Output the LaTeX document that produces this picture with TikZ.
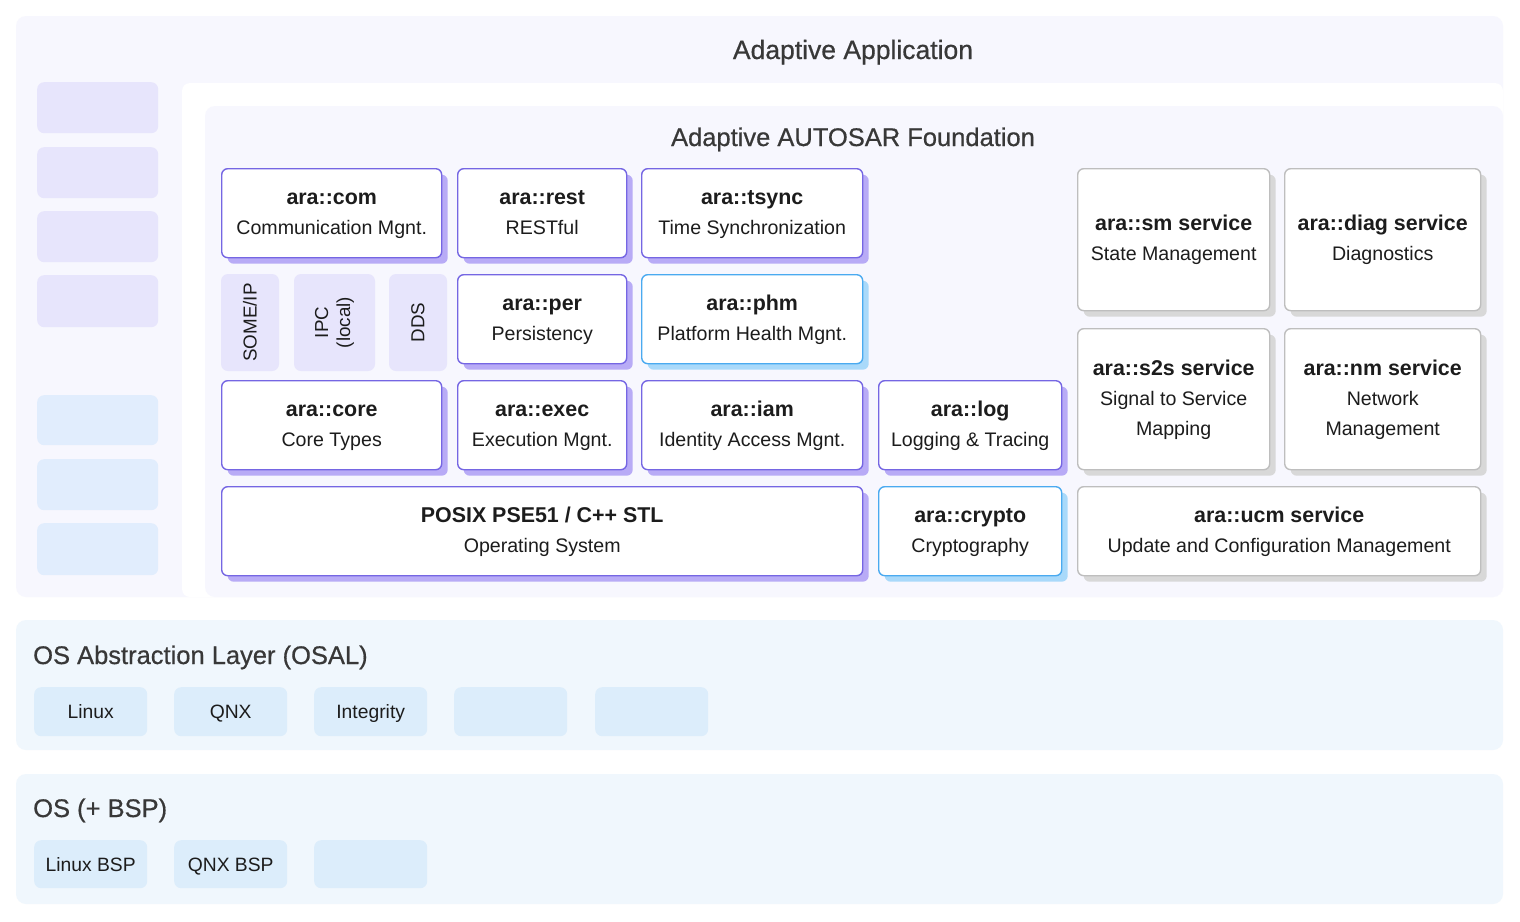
\documentclass[tikz,border=0pt]{standalone}
\usepackage{fontspec}
\setmainfont{Liberation Sans}
\newfontfamily\medfont{Liberation Sans}[FakeBold=0.6]
\usetikzlibrary{shadows}
\definecolor{panelL}{HTML}{F7F7FE}
\definecolor{lav}{HTML}{E7E5FC}
\definecolor{lblue}{HTML}{E1EDFD}
\definecolor{osal}{HTML}{F0F7FD}
\definecolor{osbox}{HTML}{DCEDFB}
\definecolor{pb}{HTML}{7566E3}
\definecolor{ps}{HTML}{B8ABF6}
\definecolor{bb}{HTML}{4AAAF0}
\definecolor{bs}{HTML}{A9D9FA}
\definecolor{gb}{HTML}{BEBEBE}
\definecolor{gs}{HTML}{D8D8D8}
\definecolor{txt}{HTML}{1C1C1C}
\definecolor{ttlc}{HTML}{383838}
\newcommand{\ms}{\rule[-9pt]{0pt}{30pt}}
\newcommand{\modtitle}[1]{{\fontsize{21.4}{30}\selectfont\bfseries\ms #1}}
\tikzset{
  mod/.style 2 args={draw=#1, line width=1.4pt, fill=white, rounded corners=6pt,
    anchor=north west, inner sep=0pt, align=center, text=txt,
    font=\fontsize{19.6}{30}\selectfont,
    drop shadow={shadow xshift=6pt, shadow yshift=-6pt, fill=#2, opacity=1}},
  pmod/.style={mod={pb}{ps}},
  bmod/.style={mod={bb}{bs}},
  gmod/.style={mod={gb}{gs}},
  panel/.style={fill=#1, draw=none, rounded corners=10pt},
  tile/.style={fill=#1, draw=none, rounded corners=7pt, anchor=north west, inner sep=0pt,
    text=txt, font=\fontsize{19.3}{22}\selectfont, text height=13.8pt, text depth=0pt},
  proto/.style={fill=lav, draw=none, rounded corners=7pt, inner sep=0pt, align=center,
    text=txt, font=\fontsize{18.8}{22}\selectfont, rotate=90},
  sect/.style={text=ttlc, font=\medfont\fontsize{25.5}{28}\selectfont, inner sep=0pt, anchor=base},
}
\begin{document}
\begin{tikzpicture}[x=1pt,y=-1pt]
\useasboundingbox (0,0) rectangle (1520,921);
\fill[white] (0,0) rectangle (1520,921);
% panels
\fill[panel=panelL] (16,16) rectangle (1503,597);
\fill[white, rounded corners=8pt] (182,83) rectangle (1503,597);
\fill[panel=panelL] (205,106) rectangle (1503,597);
\fill[panel=osal] (16,620) rectangle (1503,750);
\fill[panel=osal] (16,774) rectangle (1503,904);
% section titles
\node[sect, font=\medfont\fontsize{26.5}{28}\selectfont] (appT) at (853,59) {Adaptive Application};
\node[sect] (fndT) at (853,146) {Adaptive AUTOSAR Foundation};
\node[sect, anchor=base west] (osalT) at (33,664) {OS Abstraction Layer (OSAL)};
\node[sect, anchor=base west] (osT) at (33,817) {OS (+ BSP)};
% left column tiles
\node[tile=lav, minimum width=121pt, minimum height=51pt] (l1) at (37,82) {};
\node[tile=lav, minimum width=121pt, minimum height=51pt] (l2) at (37,147) {};
\node[tile=lav, minimum width=121pt, minimum height=51pt] (l3) at (37,211) {};
\node[tile=lav, minimum width=121pt, minimum height=52pt] (l4) at (37,275) {};
\node[tile=lblue, minimum width=121pt, minimum height=50pt] (l5) at (37,395) {};
\node[tile=lblue, minimum width=121pt, minimum height=51pt] (l6) at (37,459) {};
\node[tile=lblue, minimum width=121pt, minimum height=52pt] (l7) at (37,523) {};
% module boxes
\node[pmod, minimum width=220pt, minimum height=89pt] (com) at (221,168) {\modtitle{ara::com}\\\ms Communication Mgnt.};
\node[pmod, minimum width=169pt, minimum height=89pt] (rest) at (457,168) {\modtitle{ara::rest}\\\ms RESTful};
\node[pmod, minimum width=221pt, minimum height=89pt] (tsync) at (641,168) {\modtitle{ara::tsync}\\\ms Time Synchronization};
\node[pmod, minimum width=169pt, minimum height=89pt] (per) at (457,274) {\modtitle{ara::per}\\\ms Persistency};
\node[bmod, minimum width=221pt, minimum height=89pt] (phm) at (641,274) {\modtitle{ara::phm}\\\ms Platform Health Mgnt.};
\node[pmod, minimum width=220pt, minimum height=89pt] (core) at (221,380) {\modtitle{ara::core}\\\ms Core Types};
\node[pmod, minimum width=169pt, minimum height=89pt] (exec) at (457,380) {\modtitle{ara::exec}\\\ms Execution Mgnt.};
\node[pmod, minimum width=221pt, minimum height=89pt] (iam) at (641,380) {\modtitle{ara::iam}\\\ms Identity Access Mgnt.};
\node[pmod, minimum width=183pt, minimum height=89pt] (log) at (878,380) {\modtitle{ara::log}\\\ms Logging \& Tracing};
\node[pmod, minimum width=641pt, minimum height=89pt] (posix) at (221,486) {\modtitle{POSIX PSE51 / C++ STL}\\\ms Operating System};
\node[bmod, minimum width=183pt, minimum height=89pt] (crypto) at (878,486) {\modtitle{ara::crypto}\\\ms Cryptography};
% services
\node[gmod, minimum width=192pt, minimum height=142pt] (sm) at (1077,168) {\modtitle{ara::sm service}\\\ms State Management};
\node[gmod, minimum width=196pt, minimum height=142pt] (diag) at (1284,168) {\modtitle{ara::diag service}\\\ms Diagnostics};
\node[gmod, minimum width=192pt, minimum height=141pt] (s2s) at (1077,328) {\modtitle{ara::s2s service}\\\ms Signal to Service\\\ms Mapping};
\node[gmod, minimum width=196pt, minimum height=141pt] (nm) at (1284,328) {\modtitle{ara::nm service}\\\ms Network\\\ms Management};
\node[gmod, minimum width=403pt, minimum height=89pt] (ucm) at (1077,486) {\modtitle{ara::ucm service}\\\ms Update and Configuration Management};
% protocol tiles
\node[proto, minimum width=97pt, minimum height=58pt] (someip) at (250,322.5) {SOME/IP};
\node[proto, minimum width=97pt, minimum height=81pt] (ipc) at (334.5,322.5) {IPC\\(local)};
\node[proto, minimum width=97pt, minimum height=58pt] (dds) at (418,322.5) {DDS};
% OSAL tiles
\node[tile=osbox, minimum width=113pt, minimum height=49pt] (linux) at (34,687) {Linux};
\node[tile=osbox, minimum width=113pt, minimum height=49pt] (qnx) at (174,687) {QNX};
\node[tile=osbox, minimum width=113pt, minimum height=49pt] (integ) at (314,687) {Integrity};
\node[tile=osbox, minimum width=113pt, minimum height=49pt] (o4) at (454,687) {};
\node[tile=osbox, minimum width=113pt, minimum height=49pt] (o5) at (595,687) {};
% OS tiles
\node[tile=osbox, minimum width=113pt, minimum height=48pt] (lbsp) at (34,840) {Linux BSP};
\node[tile=osbox, minimum width=113pt, minimum height=48pt] (qbsp) at (174,840) {QNX BSP};
\node[tile=osbox, minimum width=113pt, minimum height=48pt] (b3) at (314,840) {};
\end{tikzpicture}
\end{document}
